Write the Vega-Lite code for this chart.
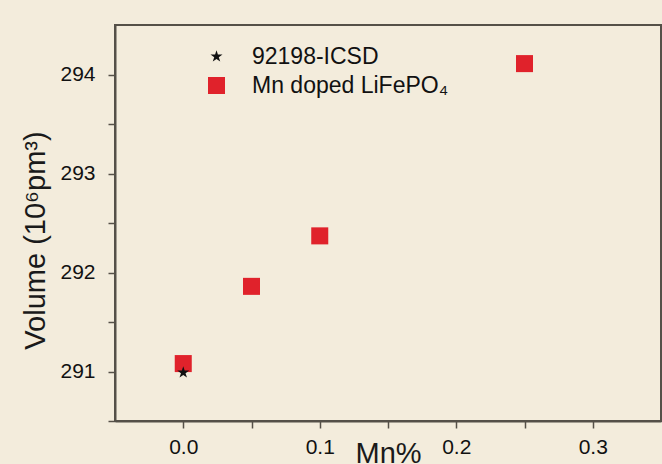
{
  "$schema": "https://vega.github.io/schema/vega-lite/v6.json",
  "autosize": "none",
  "width": 546,
  "height": 396,
  "padding": {"left": 115, "top": 25, "right": 1, "bottom": 43},
  "background": "#f3ecdc",
  "config": {
    "font": "Liberation Sans",
    "view": {"stroke": "#555048", "strokeWidth": 2},
    "axis": {
      "grid": false,
      "domainColor": "#555048",
      "domainWidth": 2,
      "tickColor": "#555048",
      "tickWidth": 1.5,
      "tickSize": 7,
      "labelFont": "Liberation Sans",
      "labelFontSize": 21,
      "labelColor": "#111111",
      "titleFont": "Liberation Sans",
      "titleFontSize": 29,
      "titleFontWeight": "normal",
      "titleColor": "#1a1a1a"
    }
  },
  "data": {
    "values": [
      {"mn": 0.0, "volume": 291.08, "series": "Mn doped LiFePO₄"},
      {"mn": 0.05, "volume": 291.86, "series": "Mn doped LiFePO₄"},
      {"mn": 0.1, "volume": 292.37, "series": "Mn doped LiFePO₄"},
      {"mn": 0.25, "volume": 294.11, "series": "Mn doped LiFePO₄"},
      {"mn": 0.0, "volume": 290.99, "series": "92198-ICSD"}
    ]
  },
  "mark": {"type": "point", "filled": true, "opacity": 1},
  "encoding": {
    "x": {
      "field": "mn",
      "type": "quantitative",
      "scale": {"domain": [-0.05, 0.35], "nice": false, "zero": false},
      "axis": {
        "title": "Mn%",
        "values": [0, 0.05, 0.1, 0.15, 0.2, 0.25, 0.3],
        "labelExpr": "abs(datum.value*10 - round(datum.value*10)) < 0.001 ? format(datum.value, '.1f') : ''",
        "labelPadding": 8,
        "titleY": 41,
        "titleBaseline": "alphabetic"
      }
    },
    "y": {
      "field": "volume",
      "type": "quantitative",
      "scale": {"domain": [290.5, 294.5], "nice": false, "zero": false},
      "axis": {
        "title": "Volume (10⁶pm³)",
        "values": [290.5, 291, 291.5, 292, 292.5, 293, 293.5, 294],
        "labelExpr": "datum.value % 1 == 0 ? format(datum.value, 'd') : ''",
        "labelPadding": 13,
        "titleX": -71,
        "titleY": 215,
        "titleBaseline": "alphabetic"
      }
    },
    "color": {
      "field": "series",
      "type": "nominal",
      "scale": {"domain": ["92198-ICSD", "Mn doped LiFePO₄"], "range": ["#111111", "#e0222b"]},
      "legend": {
        "title": null,
        "orient": "none",
        "legendX": 90,
        "legendY": 20,
        "labelFontSize": 23,
        "labelColor": "#111111",
        "labelLimit": 0,
        "labelOffset": 24,
        "rowPadding": 5,
        "symbolStrokeWidth": 0
      }
    },
    "shape": {
      "field": "series",
      "type": "nominal",
      "scale": {"domain": ["92198-ICSD", "Mn doped LiFePO₄"], "range": ["M0,-1L0.22,-0.31L0.95,-0.31L0.36,0.12L0.59,0.81L0,0.38L-0.59,0.81L-0.36,0.12L-0.95,-0.31L-0.22,-0.31Z", "square"]}
    },
    "size": {
      "field": "series",
      "type": "nominal",
      "scale": {"domain": ["92198-ICSD", "Mn doped LiFePO₄"], "range": [160, 290]}
    },
    "order": {"field": "volume", "sort": "descending"}
  }
}
